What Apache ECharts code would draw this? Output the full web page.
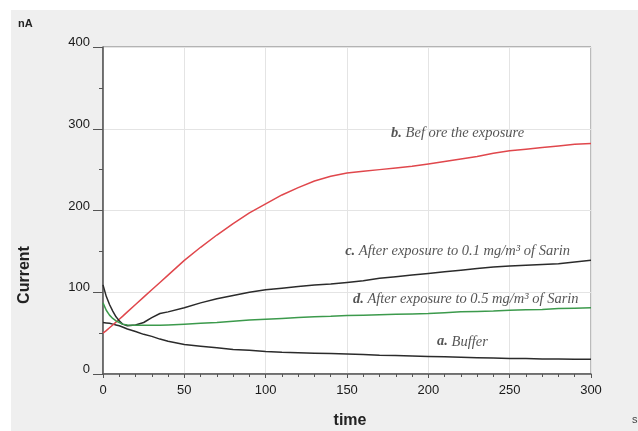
<!DOCTYPE html>
<html>
<head>
<meta charset="utf-8">
<script src="https://cdn.jsdelivr.net/npm/echarts@6/dist/echarts.min.js"></script>
<style>
  body { margin: 0; background: #fff; }
  #panel { position: absolute; left: 11px; top: 10px; width: 627px; height: 421px; background: #efefef; }
  #main { position: absolute; left: 0; top: 0; width: 638px; height: 431px; }
</style>
</head>
<body>
<div id="panel"></div>
<div id="main"></div>
<script>
// time (s) and currents (nA)
var times    = [0, 2, 4, 6, 8, 10, 12, 15, 20, 25, 30, 35, 40, 50, 60, 70, 80, 90, 100, 110, 120, 130, 140, 150, 160, 170, 180, 190, 200, 210, 220, 230, 240, 250, 260, 270, 280, 290, 300];
var buffer   = [63, 62.5, 62, 61, 60, 59, 57.5, 55, 52, 48.5, 46, 42.7, 40, 36, 34, 32, 30, 29, 27.5, 26.5, 26, 25.5, 25, 24.5, 24, 23, 22.5, 22, 21.5, 21, 20.5, 20, 19.5, 19, 19, 18.5, 18.5, 18, 18];
var before   = [50, 53, 56.5, 60, 63.5, 67, 70.5, 76, 85, 94, 103, 112, 121, 139, 155, 170, 184, 197, 208, 219, 228, 236, 242, 246, 248, 250, 252, 254, 257, 260, 263, 266, 270, 273, 275, 277, 279, 281, 282];
var sarin01  = [109, 95, 85, 77, 70, 65, 61, 59, 60, 63, 69, 74, 76, 81, 87, 92, 96, 100, 103, 105, 107, 109, 110, 112, 114, 117, 119, 121, 123, 125, 127, 129, 131, 132, 133, 134, 135, 137, 139];
var sarin05  = [87, 78, 72, 68, 65, 63, 61, 60, 59.5, 59.5, 59.5, 59.5, 60, 61, 62, 63, 64.5, 66, 67, 68, 69, 70, 70.5, 71.5, 72, 72.5, 73, 73.5, 74, 75, 76, 76.5, 77, 78, 78.5, 79, 80, 80.5, 81];

// curve labels: [x, y, tag, text]
var curveLabels = [
  [218, 294, 'b.', ' Bef ore the exposure'],
  [218, 150, 'c.', ' After exposure to 0.1 mg/m\u00b3 of Sarin'],
  [223, 92, 'd.', ' After exposure to 0.5 mg/m\u00b3 of Sarin'],
  [221, 39.5, 'a.', ' Buffer']
];

function pairs(ys) {
  return times.map(function (t, i) { return [t, ys[i]]; });
}

var myChart = echarts.init(document.getElementById('main'));

var serif = 'Liberation Serif, Times New Roman, serif';
var sans = 'Liberation Sans, Arial, sans-serif';

function line(name, ys, color) {
  return {
    name: name,
    type: 'line',
    data: pairs(ys),
    showSymbol: false,
    symbol: 'none',
    lineStyle: { color: color, width: 1.5 },
    animation: false,
    z: 3
  };
}

var series = [
  line('a', buffer, '#2b2b2b'),
  line('b', before, '#e0474c'),
  line('c', sarin01, '#2b2b2b'),
  line('d', sarin05, '#3c9a4c')
];

// text labels placed in data coordinates
series.push({
  type: 'scatter',
  symbolSize: 0,
  silent: true,
  animation: false,
  data: curveLabels.map(function (l) { return [l[0], l[1]]; }),
  label: {
    show: true,
    position: 'inside',
    formatter: function (p) {
      var l = curveLabels[p.dataIndex];
      return '{b|' + l[2] + '}{t|' + l[3] + '}';
    },
    rich: {
      b: { fontFamily: serif, fontStyle: 'italic', fontWeight: 'bold', fontSize: 14.5, color: '#2a2a2a' },
      t: { fontFamily: serif, fontStyle: 'italic', fontSize: 14.5, color: '#2a2a2a' }
    }
  },
  z: 5
});

option = {
  backgroundColor: 'transparent',
  grid: {
    left: 103,
    top: 47,
    right: 47,
    bottom: 57,
    show: true,
    backgroundColor: '#ffffff',
    borderColor: '#777',
    borderWidth: 1
  },
  xAxis: {
    type: 'value',
    min: 0,
    max: 300,
    interval: 50,
    axisLine: { lineStyle: { color: '#555', width: 1.5 } },
    axisTick: { show: true, length: 4, lineStyle: { color: '#555' } },
    minorTick: { show: true, splitNumber: 5, length: 3, lineStyle: { color: '#555' } },
    splitLine: { show: true, lineStyle: { color: '#e4e4e4' } },
    axisLabel: { color: '#1a1a1a', fontFamily: sans, fontSize: 13, margin: 10 }
  },
  yAxis: {
    type: 'value',
    min: 0,
    max: 400,
    interval: 100,
    axisLine: { show: true, lineStyle: { color: '#555', width: 1.5 } },
    axisTick: { show: true, length: 10, lineStyle: { color: '#555' } },
    minorTick: { show: true, splitNumber: 2, length: 4, lineStyle: { color: '#555' } },
    splitLine: { show: true, lineStyle: { color: '#e4e4e4' } },
    axisLabel: { color: '#1a1a1a', fontFamily: sans, fontSize: 13, margin: 13, verticalAlign: 'bottom', lineHeight: 9 }
  },
  graphic: [
    { type: 'text', left: 18, top: 18, style: { text: 'nA', fontFamily: sans, fontSize: 11, fontWeight: 'bold', fill: '#222' } },
    { type: 'text', x: 25, y: 275, rotation: Math.PI / 2, style: { text: 'Current', fontFamily: sans, fontSize: 16, fontWeight: 'bold', fill: '#222', align: 'center', verticalAlign: 'middle' } },
    { type: 'text', x: 350, y: 421, style: { text: 'time', fontFamily: sans, fontSize: 16, fontWeight: 'bold', fill: '#222', align: 'center', verticalAlign: 'middle' } },
    { type: 'text', x: 632, y: 414, style: { text: 's', fontFamily: sans, fontSize: 11, fill: '#444' } }
  ],
  series: series
};

myChart.setOption(option);
</script>
</body>
</html>
